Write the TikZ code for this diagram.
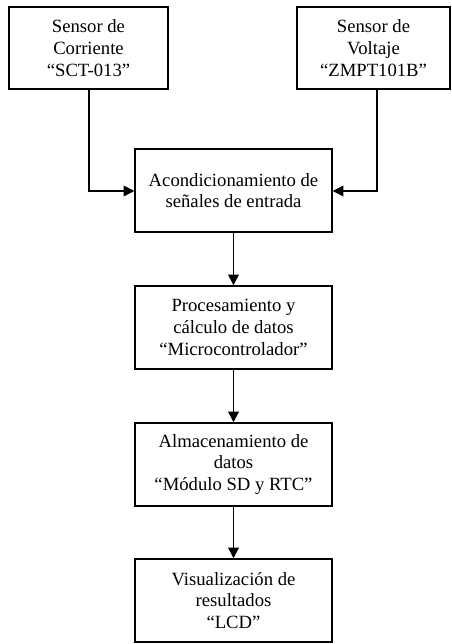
\documentclass[tikz,border=0pt]{standalone}
\usepackage{fontspec}
\setmainfont{Liberation Serif}
\usetikzlibrary{arrows.meta}
\begin{document}
\begin{tikzpicture}[x=0.75pt,y=-0.75pt,
  blk/.style={draw,line width=1.1pt,inner sep=0pt,align=center,
    font=\fontsize{14pt}{16.3pt}\selectfont,minimum height=62pt},
  wide/.style={blk,minimum width=147.75pt,minimum height=62.25pt},
  conn/.style={line width=1.1pt,-{Triangle[length=8pt,width=8pt]}}]
\useasboundingbox (0,0) rectangle (452,644);
\node[blk,minimum width=119.25pt,minimum height=61.5pt] (b1) at (88.5,48) {Sensor de\\Corriente\\“SCT-013”};
\node[blk,minimum width=114.75pt,minimum height=61.5pt] (b2) at (373.5,48) {Sensor de\\Voltaje\\“ZMPT101B”};
\node[wide] (b3) at (233.5,190.5) {Acondicionamiento de\\señales de entrada};
\node[wide] (b4) at (233.5,327.5) {Procesamiento y\\cálculo de datos\\“Microcontrolador”};
\node[wide] (b5) at (233.5,464.5) {Almacenamiento de\\datos\\“Módulo SD y RTC”};
\node[wide,minimum height=62.25pt] (b6) at (233.5,600.5) {Visualización de\\resultados\\“LCD”};
\coordinate (c1) at (89,89);
\coordinate (c2) at (377,89);
\draw[conn] (c1) |- (b3.west |- 0,191);
\draw[conn] (c2) |- (b3.east |- 0,191);
\draw[conn] (b3) -- (b4);
\draw[conn] (b4) -- (b5);
\draw[conn] (b5) -- (b6);
\end{tikzpicture}
\end{document}
